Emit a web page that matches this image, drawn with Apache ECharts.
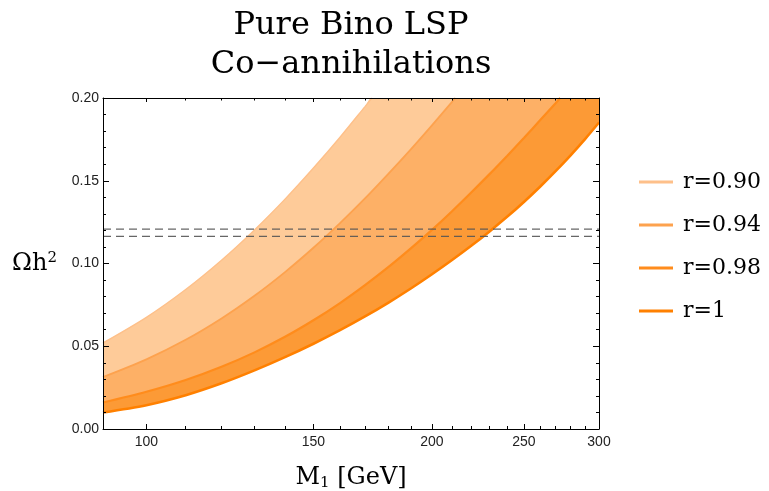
<!DOCTYPE html>
<html><head><meta charset="utf-8">
<script src="https://cdn.jsdelivr.net/npm/echarts@6/dist/echarts.min.js"></script>
<style>html,body{margin:0;padding:0;background:#fff}#c{width:769px;height:491px}</style>
</head><body><div id="c"></div>
<script>
// ---- data (M1 in GeV, Omega h^2) ----
const M_090 = [90, 100, 110, 120, 130, 140, 150, 160, 170, 172.9];
const R_090 = [0.052, 0.0675, 0.0843, 0.1020, 0.1203, 0.1389, 0.1577, 0.1763, 0.1948, 0.200];
const M_094 = [90, 100, 110, 120, 130, 140, 150, 160, 170, 180, 190, 200, 210, 211.7];
const R_094 = [0.0314, 0.0421, 0.0539, 0.0668, 0.0805, 0.0948, 0.1095, 0.1244, 0.1393, 0.1543, 0.1690, 0.1835, 0.1977, 0.200];
const M_098 = [90, 100, 110, 120, 130, 140, 150, 160, 170, 180, 190, 200, 210, 220, 230, 240, 250, 260, 270, 273];
const R_098 = [0.0160, 0.0225, 0.0296, 0.0376, 0.0463, 0.0557, 0.0657, 0.0761, 0.0869, 0.0979, 0.1091, 0.1203, 0.1316, 0.1429, 0.1540, 0.1650, 0.1758, 0.1865, 0.1968, 0.200];
const M_100 = [90, 100, 110, 120, 130, 140, 150, 160, 170, 180, 190, 200, 210, 220, 230, 240, 250, 260, 270, 280, 290, 300];
const R_100 = [0.0100, 0.0144, 0.0204, 0.0276, 0.0354, 0.0434, 0.0515, 0.0597, 0.0680, 0.0764, 0.0849, 0.0935, 0.1021, 0.1107, 0.1194, 0.1282, 0.1372, 0.1464, 0.1558, 0.1654, 0.1752, 0.1852];
const SERIES_NAMES = ['r=0.90', 'r=0.94', 'r=0.98', 'r=1'];
const OMEGA_BAND = [0.1164, 0.1208];
const X_TICKS = [100, 150, 200, 250, 300];
const X_MINOR = [90, 100, 110, 120, 130, 140, 150, 160, 170, 180, 190, 200, 210, 220, 230, 240, 250, 260, 270, 280, 290, 300];
const X_RANGE = [90, 300];
const Y_RANGE = [0, 0.2];
const Y_STEP = 0.05;
const TITLE_LINES = ['Pure Bino LSP', 'Co\u2212annihilations'];

// ---- styling ----
const LINE_COLORS = ['#FEC08A', '#FDA24E', '#FF8C1C', '#FF8000'];
const FILL_COLORS = ['#FECB99', '#FDB066', '#FC9A36', '#FFFFFF'];
const LINE_WIDTHS = [1.4, 1.8, 2.2, 2.6];
const SERIF = 'DejaVu Serif';
const SANS = 'Liberation Sans';

const lg = Math.log10;
const curves = [[M_090, R_090], [M_094, R_094], [M_098, R_098], [M_100, R_100]];
function pairs(M, R) { return M.map((m, i) => [lg(m), R[i]]); }
function fillPairs(M, R) {
  const p = pairs(M, R);
  // curve leaves the plot through the top: keep the band filled up to the frame
  if (R[R.length - 1] >= Y_RANGE[1] && M[M.length - 1] < X_RANGE[1]) p.push([lg(X_RANGE[1]), Y_RANGE[1]]);
  return p;
}

const xMin = lg(X_RANGE[0]), xMax = lg(X_RANGE[1]);
function xAxisDef(pos, major, showLabel) {
  const vals = (major ? X_TICKS : X_MINOR).map(lg);
  const top = pos === 'top';
  const a = {
    type: 'value', min: xMin, max: xMax, position: pos, z: 10,
    axisLine: { show: major, onZero: false, lineStyle: { color: '#000', width: 1 } },
    axisTick: { show: true, inside: true, customValues: vals, length: major ? (top ? 4 : 5) : (top ? 2.5 : 3), lineStyle: { color: '#000', width: 1 } },
    axisLabel: { show: showLabel, customValues: vals, margin: 6, fontFamily: SANS, fontSize: 14, color: '#222',
      formatter: v => String(Math.round(Math.pow(10, v))) },
    splitLine: { show: false }
  };
  if (showLabel) {
    a.name = '{m|M}{s|1}{m| [GeV]}';
    a.nameLocation = 'middle';
    a.nameGap = 35;
    a.nameTextStyle = { rich: {
      m: { fontFamily: SERIF, fontSize: 24, lineHeight: 28, color: '#000' },
      s: { fontFamily: SERIF, fontSize: 15, lineHeight: 28, padding: [11, 0, 0, 0], color: '#000' }
    } };
  }
  return a;
}
function yAxisDef(pos) {
  const left = pos === 'left';
  const a = {
    type: 'value', min: Y_RANGE[0], max: Y_RANGE[1], interval: Y_STEP, position: pos, z: 10,
    axisLine: { show: true, onZero: false, lineStyle: { color: '#000', width: 1 } },
    axisTick: { show: true, inside: true, length: 6, lineStyle: { color: '#000', width: 1 } },
    minorTick: { show: true, splitNumber: 5, length: 3, lineStyle: { color: '#000', width: 1 } },
    axisLabel: { show: left, margin: 4, fontFamily: SANS, fontSize: 14, color: '#222', formatter: v => v.toFixed(2) },
    splitLine: { show: false }, minorSplitLine: { show: false }
  };
  if (left) {
    a.name = '{m|\u03A9h}{p|2}';
    a.nameLocation = 'middle';
    a.nameRotate = 0;
    a.nameGap = 46;
    a.nameTextStyle = { rich: {
      m: { fontFamily: SERIF, fontSize: 24, lineHeight: 28, color: '#000' },
      p: { fontFamily: SERIF, fontSize: 15, lineHeight: 28, padding: [0, 0, 10, 0], color: '#000' }
    } };
  }
  return a;
}

const series = [];
curves.forEach((c, i) => {
  series.push({
    type: 'line', name: 'fill' + i, data: fillPairs(c[0], c[1]), smooth: 0.3, showSymbol: false, silent: true,
    lineStyle: { width: 0 }, areaStyle: { color: FILL_COLORS[i], opacity: 1, origin: 'start' }, z: 2
  });
});
curves.forEach((c, i) => {
  series.push({
    type: 'line', name: SERIES_NAMES[i], data: pairs(c[0], c[1]), smooth: 0.3, showSymbol: false, silent: true,
    color: LINE_COLORS[i], lineStyle: { width: LINE_WIDTHS[i], color: LINE_COLORS[i] }, z: 3
  });
});
OMEGA_BAND.forEach((v, i) => {
  series.push({
    type: 'line', name: 'omega' + i, data: [[xMin, v], [xMax, v]], showSymbol: false, silent: true, z: 4,
    lineStyle: { type: [8, 5], color: '#555', width: 1.2, opacity: 0.9 }
  });
});

const chart = echarts.init(document.getElementById('c'), null, { renderer: 'canvas' });
chart.setOption({
  animation: false,
  backgroundColor: '#fff',
  graphic: [{
    type: 'text', x: 351, y: 6, z: 20,
    style: { text: TITLE_LINES.join('\n'), font: '32px "' + SERIF + '"', lineHeight: 39, fill: '#000', align: 'center', verticalAlign: 'top' }
  }],
  grid: { left: 103, right: 170, top: 98, bottom: 62, containLabel: false, outerBoundsMode: 'none' },
  legend: {
    data: SERIES_NAMES, orient: 'vertical', left: 634, top: 165, itemGap: 19,
    icon: 'rect', itemWidth: 34, itemHeight: 3, selectedMode: false,
    textStyle: { fontFamily: SERIF, fontSize: 22, lineHeight: 24, color: '#000', padding: [0, 0, 0, 5] }
  },
  xAxis: [xAxisDef('bottom', true, true), xAxisDef('bottom', false, false), xAxisDef('top', true, false), xAxisDef('top', false, false)],
  yAxis: [yAxisDef('left'), yAxisDef('right')],
  series: series
});
</script></body></html>
